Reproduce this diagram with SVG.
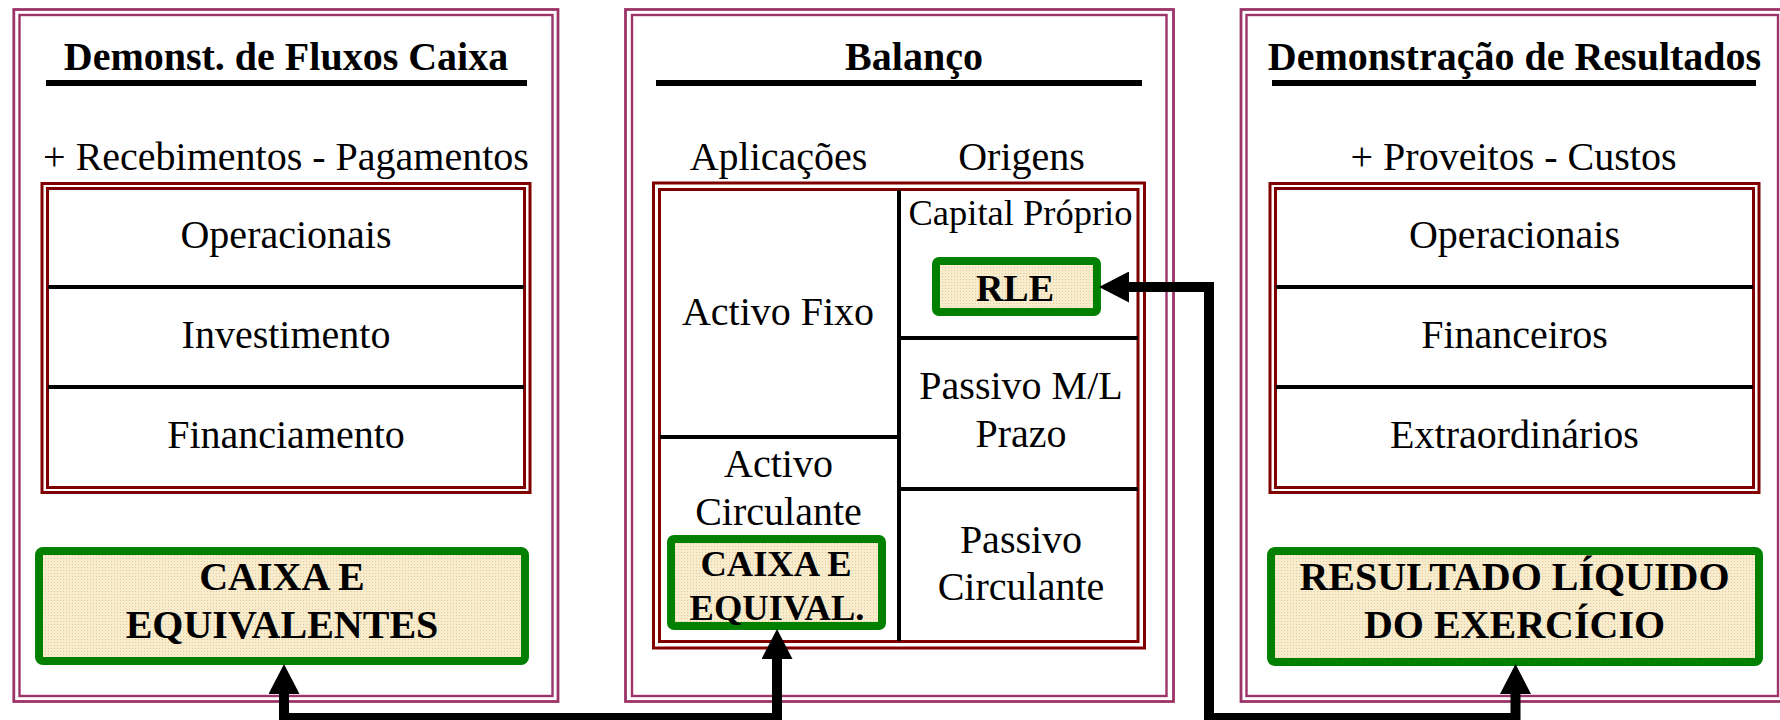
<svg xmlns="http://www.w3.org/2000/svg" width="1780" height="720" viewBox="0 0 1780 720">
<defs>
<style>
.t{font-family:"Liberation Serif","Times New Roman",serif;font-size:40px;fill:#000;text-anchor:middle}
.b{font-weight:bold}
.frameO{fill:none;stroke:#9C3468;stroke-width:2.8}
.frameI{fill:none;stroke:#9C3468;stroke-width:2.4}
.red{fill:none;stroke:#800000;stroke-width:3}
.div{stroke:#000;stroke-width:4;fill:none}
.ul{stroke:#000;stroke-width:6;fill:none}
.gbox{fill:url(#dots);stroke:#008000;stroke-width:8}
.conn{fill:none;stroke:#000;stroke-width:10;stroke-linejoin:miter}
</style>
<pattern id="dots" width="3" height="3" patternUnits="userSpaceOnUse">
<rect width="3" height="3" fill="#F8ECCD"/>
<rect width="1" height="1" fill="#DDCBA2"/>
</pattern>
<marker id="ah" viewBox="0 0 30 31" refX="2" refY="15.5" markerWidth="30" markerHeight="31" markerUnits="userSpaceOnUse" orient="auto-start-reverse">
<path d="M0,0 L30,15.5 L0,31 Z" fill="#000"/>
</marker>
</defs>
<rect width="1780" height="720" fill="#fff"/>

<g id="dfc">
<rect class="frameO" x="13.8" y="9.5" width="544.2" height="692"/>
<rect class="frameI" x="19.5" y="15" width="533" height="681"/>
<text class="t b" x="286" y="70">Demonst. de Fluxos Caixa</text>
<line class="ul" x1="46" y1="83" x2="527" y2="83"/>
<text class="t" x="286" y="170">+ Recebimentos - Pagamentos</text>
<rect class="red" x="42" y="183.5" width="488" height="309"/>
<rect class="red" x="47.5" y="188.5" width="477" height="299"/>
<line class="div" x1="48" y1="287" x2="524" y2="287"/>
<line class="div" x1="48" y1="387" x2="524" y2="387"/>
<text class="t" x="286" y="248">Operacionais</text>
<text class="t" x="286" y="348">Investimento</text>
<text class="t" x="286" y="448">Financiamento</text>
</g>
<g id="caixa-equivalentes">
<rect class="gbox" x="39" y="551" width="486" height="110" rx="4"/>
<text class="t b" x="282" y="590">CAIXA E</text>
<text class="t b" x="282" y="638">EQUIVALENTES</text>
</g>

<g id="balanco">
<rect class="frameO" x="625.5" y="9.5" width="548" height="692"/>
<rect class="frameI" x="632" y="15" width="534.5" height="681"/>
<text class="t b" x="914" y="70">Balanço</text>
<line class="ul" x1="656" y1="83" x2="1142" y2="83"/>
<text class="t" x="778.5" y="170">Aplicações</text>
<text class="t" x="1021.5" y="170">Origens</text>
<rect class="red" x="653.5" y="183" width="491" height="465"/>
<rect class="red" x="659.5" y="189.5" width="478.5" height="452"/>
<line class="div" x1="899" y1="190" x2="899" y2="641"/>
<line class="div" x1="660" y1="437" x2="899" y2="437"/>
<line class="div" x1="899" y1="338" x2="1138" y2="338"/>
<line class="div" x1="899" y1="489" x2="1138" y2="489"/>
<text class="t" x="1020.5" y="225" style="font-size:36.5px">Capital Próprio</text>
<text class="t" x="778" y="325">Activo Fixo</text>
<text class="t" x="1021" y="399">Passivo M/L</text>
<text class="t" x="1021" y="447">Prazo</text>
<text class="t" x="778.5" y="477">Activo</text>
<text class="t" x="778.5" y="525">Circulante</text>
<text class="t" x="1021" y="553">Passivo</text>
<text class="t" x="1021" y="600">Circulante</text>
</g>
<g id="rle">
<rect class="gbox" x="936" y="261" width="161" height="51" rx="3"/>
<text class="t b" x="1015" y="301" style="font-size:38px">RLE</text>
</g>
<g id="caixa-equival">
<rect class="gbox" x="671" y="539" width="211" height="87" rx="3"/>
<text class="t b" x="776" y="576" style="font-size:36.5px">CAIXA E</text>
<text class="t b" x="777" y="620" style="font-size:36.5px">EQUIVAL.</text>
</g>

<g id="dr">
<rect class="frameO" x="1241" y="9.5" width="543" height="692"/>
<rect class="frameI" x="1246.5" y="15" width="531.5" height="681"/>
<text class="t b" x="1514.5" y="70">Demonstração de Resultados</text>
<line class="ul" x1="1272" y1="83" x2="1756" y2="83"/>
<text class="t" x="1513.5" y="170">+ Proveitos - Custos</text>
<rect class="red" x="1270" y="183.5" width="489" height="309"/>
<rect class="red" x="1275.5" y="188.5" width="478" height="299"/>
<line class="div" x1="1276" y1="287" x2="1753" y2="287"/>
<line class="div" x1="1276" y1="387" x2="1753" y2="387"/>
<text class="t" x="1514.5" y="248">Operacionais</text>
<text class="t" x="1514.5" y="348">Financeiros</text>
<text class="t" x="1514.5" y="448">Extraordinários</text>
</g>
<g id="resultado-liquido">
<rect class="gbox" x="1271" y="551" width="488" height="111" rx="4"/>
<text class="t b" x="1514.5" y="590">RESULTADO LÍQUIDO</text>
<text class="t b" x="1514.5" y="638">DO EXERCÍCIO</text>
</g>

<g id="connectors">
<path class="conn" d="M284,692 L284,718 L777,718 L777,657" marker-start="url(#ah)" marker-end="url(#ah)"/>
<path class="conn" d="M1127,287 L1209,287 L1209,718 L1515.5,718 L1515.5,692" marker-start="url(#ah)" marker-end="url(#ah)"/>
</g>
</svg>
